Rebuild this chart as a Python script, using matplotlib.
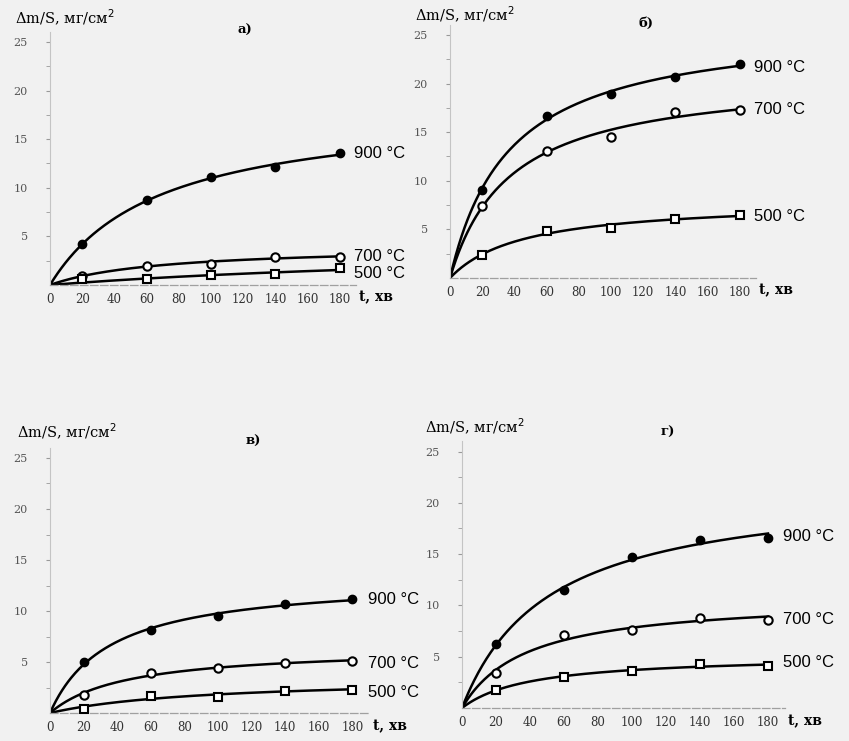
import numpy as np
import matplotlib
matplotlib.use("Agg")
import matplotlib.pyplot as plt
from matplotlib.transforms import blended_transform_factory

# ---------------- data ----------------
t_points = [20, 60, 100, 140, 180]
x_ticks = [0, 20, 40, 60, 80, 100, 120, 140, 160, 180]
y_ticks = [5, 10, 15, 20, 25]
temps = ["900 °C", "700 °C", "500 °C"]
panel_letters = ["а)", "б)", "в)", "г)"]

a_900 = [4.2, 8.7, 11.1, 12.1, 13.6]
a_700 = [0.9, 2.0, 2.2, 2.9, 2.9]
a_500 = [0.6, 0.6, 1.0, 1.1, 1.7]

b_900 = [9.1, 16.7, 18.9, 20.7, 22.0]
b_700 = [7.4, 13.1, 14.5, 17.1, 17.3]
b_500 = [2.4, 4.8, 5.1, 6.1, 6.5]

c_900 = [5.0, 8.1, 9.5, 10.7, 11.2]
c_700 = [1.8, 3.9, 4.4, 4.9, 5.1]
c_500 = [0.4, 1.7, 1.6, 2.2, 2.3]

d_900 = [6.2, 11.5, 14.7, 16.4, 16.6]
d_700 = [3.4, 7.1, 7.6, 8.8, 8.6]
d_500 = [1.8, 3.0, 3.6, 4.3, 4.1]

panels_data = [
    (a_900, a_700, a_500),
    (b_900, b_700, b_500),
    (c_900, c_700, c_500),
    (d_900, d_700, d_500),
]

# ---------------- layout / style ----------------
W, H = 849, 741
fig = plt.figure(figsize=(W / 100, H / 100), dpi=100, facecolor="#f1f1f1")

# axes rects in pixels: (origin_x, origin_y, px_per_t, px_per_y)
rects = [
    (50, 285, 1.61, 9.72),
    (450, 278, 1.61, 9.72),
    (50, 713, 1.68, 10.2),
    (462, 708, 1.70, 10.26),
]
XMAX, YMAX = 190, 26

label_y = [
    (13.5, 2.9, 1.2),
    (21.7, 17.3, 6.3),
    (11.1, 4.9, 2.0),
    (16.7, 8.6, 4.4),
]
ylabel_pos = [(15, 18), (415, 15), (17, 432), (425, 427)]
letter_pos = [(121, 26.2), (122, 26.2), (121, 26.6), (121, 26.9)]

markers = [
    dict(marker="o", mfc="black", mec="black", ms=6),
    dict(marker="o", mfc="white", mec="black", ms=6, mew=1.5),
    dict(marker="s", mfc="white", mec="black", ms=5.5, mew=1.5),
]


def fit_curve(t, y):
    """Saturating fit y = a*t/(b+t) through origin, from the data points."""
    t = np.asarray(t, float)
    y = np.asarray(y, float)
    best = None
    for b in np.logspace(0.3, 4, 600):
        f = t / (b + t)
        a = (y @ f) / (f @ f)
        err = np.sum((a * f - y) ** 2)
        if best is None or err < best[0]:
            best = (err, a, b)
    _, a, b = best
    tt = np.linspace(0, 180, 300)
    return tt, a * tt / (b + tt)


for i, (ox, oy, sx, sy) in enumerate(rects):
    w = XMAX * sx
    h = YMAX * sy
    ax = fig.add_axes([ox / W, 1 - oy / H, w / W, h / H])
    ax.set_facecolor("none")
    ax.set_xlim(0, XMAX)
    ax.set_ylim(0, YMAX)
    for s in ["top", "right"]:
        ax.spines[s].set_visible(False)
    ax.spines["left"].set_color("#c4c4c4")
    ax.spines["bottom"].set_color("#a0a0a0")
    ax.spines["bottom"].set_linestyle((0, (6, 2)))
    ax.spines["left"].set_linewidth(0.8)
    ax.spines["bottom"].set_linewidth(0.9)

    ax.set_xticks(x_ticks)
    ax.set_xticklabels([str(v) for v in x_ticks], fontsize=8.5,
                       family="DejaVu Serif", color="#333333")
    ax.set_yticks(y_ticks)
    ax.set_yticklabels([str(v) for v in y_ticks], fontsize=8,
                       family="DejaVu Serif", color="#555555")
    ax.set_yticks(np.arange(2.5, 26, 2.5), minor=True)
    ax.tick_params(axis="x", length=0, pad=6)
    ax.tick_params(axis="y", which="both", length=3, color="#999999", pad=13)

    for series, mk, ly, lab in zip(panels_data[i], markers, label_y[i], temps):
        tt, yy = fit_curve(t_points, series)
        ax.plot(tt, yy, color="black", lw=1.8, zorder=2)
        ax.plot(t_points, series, ls="none", zorder=3, **mk)
        ax.text(189, ly, lab, fontsize=12, family="Liberation Sans",
                va="center", ha="left", clip_on=False)

    trans = blended_transform_factory(ax.transData, ax.transAxes)
    ax.text(192, -0.05, "t, хв", transform=trans, fontsize=10,
            family="DejaVu Serif", fontweight="bold", va="center", ha="left",
            clip_on=False)
    lx, lyy = letter_pos[i]
    ax.text(lx, lyy, panel_letters[i], fontsize=9.5, family="DejaVu Serif",
            fontweight="bold", ha="center", va="center", clip_on=False)

    px, py = ylabel_pos[i]
    fig.text(px / W, 1 - py / H, "Δm/S, мг/см$^2$", fontsize=10.5,
             family="DejaVu Serif", va="center", ha="left")

fig.savefig("out.png", dpi=100, facecolor=fig.get_facecolor())
